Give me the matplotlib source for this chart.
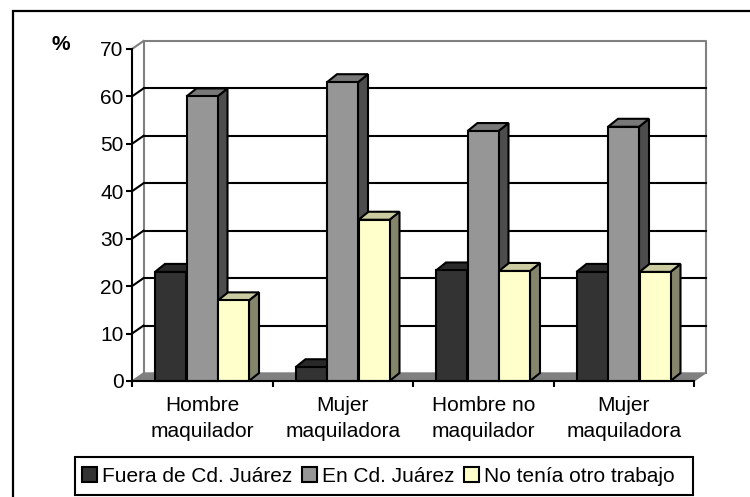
import matplotlib
matplotlib.use("Agg")
import numpy as np
import matplotlib.pyplot as plt
from matplotlib.patches import Polygon, Rectangle

plt.rcParams['font.family'] = ['Liberation Sans', 'DejaVu Sans']

# -------------------------------
# Data
# -------------------------------
categories = ["Hombre\nmaquilador", "Mujer\nmaquiladora", "Hombre no\nmaquilador", "Mujer\nmaquiladora"]
series_names = ["Fuera de Cd. Juárez", "En Cd. Juárez", "No tenía otro trabajo"]
fuera = [23, 2.9, 23.3, 23]
en_juarez = [60, 63, 52.7, 53.6]
no_tenia = [17, 34, 23.2, 23]
y_ticks = [0, 10, 20, 30, 40, 50, 60, 70]

front_colors = ["#333333", "#969696", "#FFFFCC"]
top_colors = ["#292929", "#787878", "#CCCCA3"]
side_colors = ["#1f1f1f", "#4d4d4d", "#85856B"]

W, H = 750, 497
fig = plt.figure(figsize=(W / 100, H / 100), dpi=100)

# outer frame: only left and top edges are inside the picture
fig.add_artist(plt.Line2D([13.5 / W, 13.5 / W, 1], [0, 1 - 11 / H, 1 - 11 / H], transform=fig.transFigure,
                          color="black", lw=1.6, solid_joinstyle="miter"))

# front plane of the fake 3D box
left, right, top, bottom = 132, 694, 49, 381
ax = fig.add_axes([left / W, 1 - bottom / H, (right - left) / W, (bottom - top) / H])
ax.set_xlim(0, 4)
ax.set_ylim(0, 70)
ax.patch.set_alpha(0)

# depth offsets in data units
px_x = 4 / (right - left)
px_y = 70 / (bottom - top)
wall_dx, wall_dy = 11.5 * px_x, 8 * px_y
bar_dx, bar_dy = 10 * px_x, 8 * px_y

# back wall + floor
ax.plot([wall_dx, wall_dx, 4 + wall_dx, 4 + wall_dx], [wall_dy, 70 + wall_dy, 70 + wall_dy, wall_dy],
        color="#808080", lw=1.5, clip_on=False, zorder=1)
ax.plot([0, wall_dx], [70, 70 + wall_dy], color="#808080", lw=1.5, clip_on=False, zorder=1)
ax.add_patch(Polygon([(0, 0), (wall_dx, wall_dy), (4 + wall_dx, wall_dy), (4, 0)], fc="#808080", ec="#808080", lw=1, clip_on=False, zorder=1))
for v in y_ticks[1:-1]:
    ax.plot([wall_dx, 4 + wall_dx], [v + wall_dy, v + wall_dy], color="black", lw=1.5, clip_on=False, zorder=1)
    ax.plot([0, wall_dx], [v, v + wall_dy], color="black", lw=1.5, clip_on=False, zorder=1)

# bars
bar_w = 31 * px_x
gap = 0.5 * px_x
start = 23 * px_x
z = 3
for i in range(len(categories)):
    for s, vals in enumerate([fuera, en_juarez, no_tenia]):
        x0 = i + start + s * (bar_w + gap)
        x1 = x0 + bar_w
        v = vals[i]
        ax.add_patch(Polygon([(x1, 0), (x1 + bar_dx, bar_dy), (x1 + bar_dx, v + bar_dy), (x1, v)],
                             fc=side_colors[s], ec="black", lw=1.5, clip_on=False, zorder=z))
        ax.add_patch(Polygon([(x0, v), (x0 + bar_dx, v + bar_dy), (x1 + bar_dx, v + bar_dy), (x1, v)],
                             fc=top_colors[s], ec="black", lw=1.5, clip_on=False, zorder=z))
        ax.add_patch(Rectangle((x0, 0), bar_w, v, fc=front_colors[s], ec="black", lw=1.5, clip_on=False, zorder=z))
        z += 1

# axes and ticks
for name in ["top", "right"]:
    ax.spines[name].set_visible(False)
for name in ["left", "bottom"]:
    ax.spines[name].set_linewidth(1.5)
    ax.spines[name].set_zorder(50)
ax.set_yticks(y_ticks)
ax.set_xticks([0, 1, 2, 3, 4])
ax.set_xticklabels([])
ax.tick_params(axis="both", length=4.5, width=1.5, labelsize=15, pad=1.5)
for i, c in enumerate(categories):
    ax.annotate(c, (i + 0.5, 0), xytext=(0, -11), textcoords="offset points", ha="center", va="top",
                fontsize=15, linespacing=1.46, annotation_clip=False)

fig.text(52 / W, 1 - 44 / H, "%", fontsize=15, fontweight="bold", ha="left", va="center")

# legend, its box is wider than what the legend frame would give
fig.add_artist(Rectangle((75 / W, 1 - 495 / H), 618 / W, 38 / H, transform=fig.transFigure,
                         fill=False, ec="black", lw=1.5))
handles = [Rectangle((0, 0), 1, 1, fc=c, ec="black", lw=1.5) for c in front_colors]
leg = fig.legend(handles, series_names, loc="center left", bbox_to_anchor=(73 / W, 1 - 476 / H), ncol=3,
                 fontsize=15, frameon=False,
                 handlelength=0.72, handleheight=0.72, handletextpad=0.25, columnspacing=0.45,
                 borderpad=0.42, borderaxespad=0)

fig.savefig("out.png", dpi=100)
